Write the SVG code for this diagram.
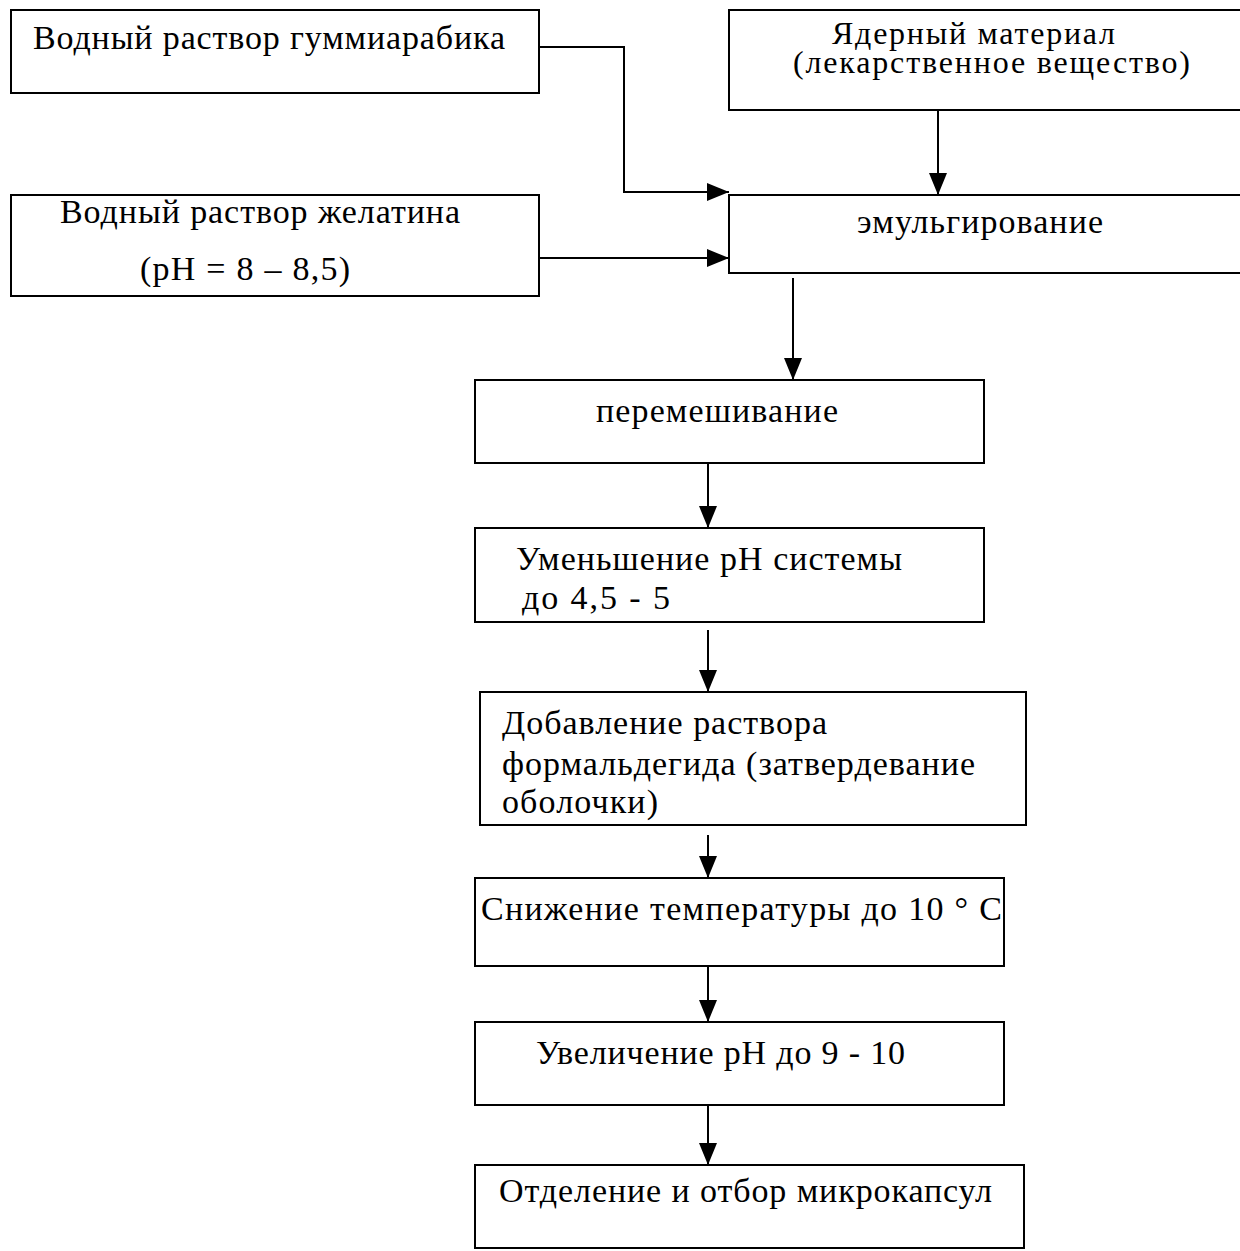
<svg xmlns="http://www.w3.org/2000/svg" width="1240" height="1251" viewBox="0 0 1240 1251">
<style>
.box{fill:#fff;stroke:#000;stroke-width:2}
.t{font-family:"Liberation Serif","Times New Roman",serif;font-size:34px;fill:#000}
.s{font-size:32px}
.c{fill:none;stroke:#000;stroke-width:2}
</style>
<defs>
<marker id="ah" markerUnits="userSpaceOnUse" markerWidth="24" markerHeight="18" refX="22" refY="9" orient="auto">
<path d="M0,0 L22,9 L0,18 Z" fill="#000"/>
</marker>
</defs>
<rect width="1240" height="1251" fill="#fff"/>
<g id="connectors">
<path class="c" d="M539,47 H624 V192 H729" marker-end="url(#ah)"/>
<path class="c" d="M539,258 H729" marker-end="url(#ah)"/>
<path class="c" d="M938,110 V195" marker-end="url(#ah)"/>
<path class="c" d="M793,278 V380" marker-end="url(#ah)"/>
<path class="c" d="M708,463 V528" marker-end="url(#ah)"/>
<path class="c" d="M708,630 V692" marker-end="url(#ah)"/>
<path class="c" d="M708,835 V878" marker-end="url(#ah)"/>
<path class="c" d="M708,966 V1022" marker-end="url(#ah)"/>
<path class="c" d="M708,1105 V1165" marker-end="url(#ah)"/>
</g>
<g id="n1"><rect class="box" x="11" y="10" width="528" height="83"/><text class="t" x="33" y="49" textLength="472" lengthAdjust="spacing">Водный раствор гуммиарабика</text></g>
<g id="n2"><rect class="box" x="11" y="195" width="528" height="101"/><text class="t" x="60" y="223" textLength="400" lengthAdjust="spacing">Водный раствор желатина</text><text class="t" x="140" y="280" textLength="210" lengthAdjust="spacing">(pH = 8  – 8,5)</text></g>
<g id="n3"><rect class="box" x="729" y="10" width="520" height="100"/><text class="t s" x="832" y="44" textLength="283" lengthAdjust="spacing">Ядерный материал</text><text class="t s" x="793" y="73" textLength="397" lengthAdjust="spacing">(лекарственное вещество)</text></g>
<g id="n4"><rect class="box" x="729" y="195" width="520" height="78"/><text class="t" x="857" y="233" textLength="246" lengthAdjust="spacing">эмульгирование</text></g>
<g id="n5"><rect class="box" x="475" y="380" width="509" height="83"/><text class="t" x="596" y="422" textLength="242" lengthAdjust="spacing">перемешивание</text></g>
<g id="n6"><rect class="box" x="475" y="528" width="509" height="94"/><text class="t" x="516" y="570" textLength="386" lengthAdjust="spacing">Уменьшение pH системы</text><text class="t" x="522" y="609" textLength="148" lengthAdjust="spacing">до  4,5 - 5</text></g>
<g id="n7"><rect class="box" x="480" y="692" width="546" height="133"/><text class="t" x="502" y="734" textLength="325" lengthAdjust="spacing">Добавление раствора</text><text class="t" x="502" y="775" textLength="473" lengthAdjust="spacing">формальдегида (затвердевание</text><text class="t" x="502" y="813" textLength="156" lengthAdjust="spacing">оболочки)</text></g>
<g id="n8"><rect class="box" x="475" y="878" width="529" height="88"/><text class="t" x="481" y="920" textLength="521" lengthAdjust="spacing">Снижение температуры до 10  ° С</text></g>
<g id="n9"><rect class="box" x="475" y="1022" width="529" height="83"/><text class="t" x="536" y="1064" textLength="369" lengthAdjust="spacing">Увеличение pH до 9 - 10</text></g>
<g id="n10"><rect class="box" x="475" y="1165" width="549" height="83"/><text class="t" x="499" y="1202" textLength="493" lengthAdjust="spacing">Отделение и отбор микрокапсул</text></g>
</svg>
